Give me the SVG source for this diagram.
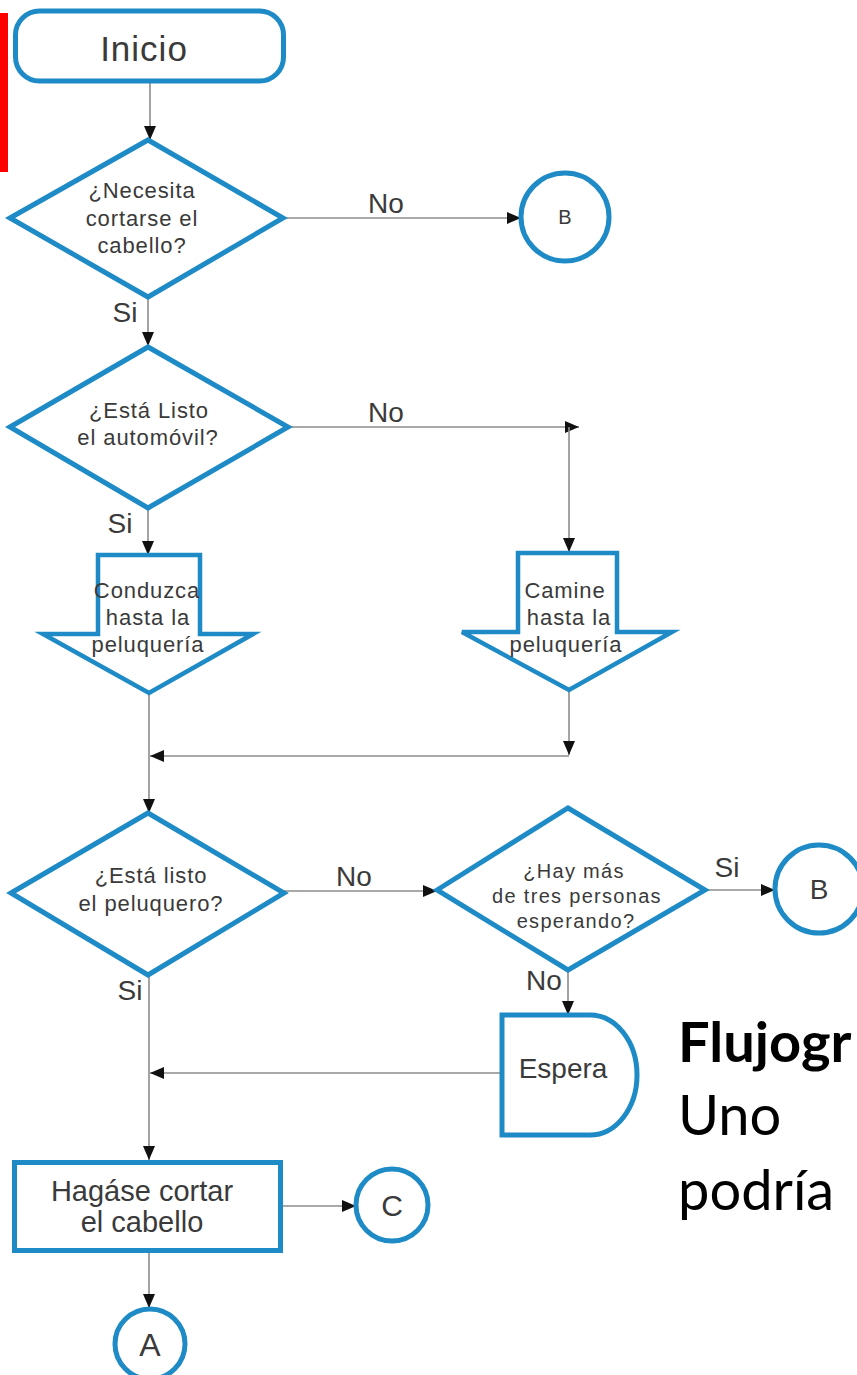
<svg xmlns="http://www.w3.org/2000/svg" width="857" height="1375" viewBox="0 0 857 1375">
<style>
.sh{fill:#ffffff;stroke:#1e8bc6;stroke-width:5;stroke-linejoin:miter}
.ba{fill:#ffffff;stroke:#1e8bc6;stroke-width:4.5;stroke-linejoin:miter}
.t{font-family:"Liberation Sans",Arial,sans-serif;fill:#3a3a3a;text-anchor:middle}
.d{font-size:22px;letter-spacing:0.9px}
.d4{font-size:20px;letter-spacing:1.3px}
.l{font-size:28px}
.c{stroke:#8c8c8c;stroke-width:1.6;fill:none}
.big{font-family:Lato,"Noto Sans",sans-serif;font-size:56px;fill:#000000}
</style>
<defs>
<marker id="ah" viewBox="0 0 14 12" refX="14" refY="6" markerWidth="14" markerHeight="12" markerUnits="userSpaceOnUse" orient="auto">
<path d="M0,0 L14,6 L0,12 Z" fill="#111111"/>
</marker>
</defs>
<rect width="857" height="1375" fill="#ffffff"/>
<rect x="0" y="13" width="8" height="159" fill="#ff0000"/>

<g id="connectors">
<line class="c" x1="150" y1="83" x2="150" y2="140" marker-end="url(#ah)"/>
<line class="c" x1="283" y1="218" x2="521" y2="218" marker-end="url(#ah)"/>
<line class="c" x1="148" y1="297" x2="148" y2="346" marker-end="url(#ah)"/>
<line class="c" x1="288" y1="427" x2="579" y2="427" marker-end="url(#ah)"/>
<line class="c" x1="569" y1="427" x2="569" y2="552" marker-end="url(#ah)"/>
<line class="c" x1="148" y1="508" x2="148" y2="555" marker-end="url(#ah)"/>
<line class="c" x1="149" y1="693" x2="149" y2="813" marker-end="url(#ah)"/>
<line class="c" x1="569" y1="690" x2="569" y2="755" marker-end="url(#ah)"/>
<line class="c" x1="569" y1="756" x2="150" y2="756" marker-end="url(#ah)"/>
<line class="c" x1="284" y1="891" x2="437" y2="891" marker-end="url(#ah)"/>
<line class="c" x1="705" y1="890" x2="775" y2="890" marker-end="url(#ah)"/>
<line class="c" x1="568" y1="970" x2="568" y2="1015" marker-end="url(#ah)"/>
<line class="c" x1="502" y1="1073" x2="150" y2="1073" marker-end="url(#ah)"/>
<line class="c" x1="149" y1="975" x2="149" y2="1160" marker-end="url(#ah)"/>
<line class="c" x1="283" y1="1206" x2="356" y2="1206" marker-end="url(#ah)"/>
<line class="c" x1="149" y1="1252" x2="149" y2="1308" marker-end="url(#ah)"/>
</g>

<g id="inicio">
<rect class="sh" x="15.5" y="11" width="268" height="70" rx="24"/>
<text class="t" x="144" y="61" font-size="35" letter-spacing="1">Inicio</text>
</g>

<g id="d1">
<polygon class="sh" points="10,218 148,140 283,218 148,297"/>
<text class="t d" x="142" y="198">¿Necesita</text>
<text class="t d" x="142" y="226">cortarse el</text>
<text class="t d" x="142" y="253">cabello?</text>
</g>

<g id="b1">
<circle class="sh" cx="565" cy="217" r="44"/>
<text class="t" x="565" y="224" font-size="20">B</text>
</g>

<g id="d2">
<polygon class="sh" points="10,427 148,347 288,427 148,508"/>
<text class="t d" x="149" y="418">¿Está Listo</text>
<text class="t d" x="148" y="445">el automóvil?</text>
</g>

<g id="conduzca">
<polygon class="ba" points="98,555 200,555 200,634 253,634 149,693 43,634 98,634"/>
<text class="t d" x="147" y="598">Conduzca</text>
<text class="t d" x="148" y="625">hasta la</text>
<text class="t d" x="148" y="652">peluquería</text>
</g>

<g id="camine">
<polygon class="ba" points="518,553 617,553 617,632 672,632 569,690 462,632 518,632"/>
<text class="t d" x="565" y="598">Camine</text>
<text class="t d" x="569" y="625">hasta la</text>
<text class="t d" x="566" y="652">peluquería</text>
</g>

<g id="d3">
<polygon class="sh" points="11,893 148,813 284,893 148,975"/>
<text class="t d" x="151" y="883">¿Está listo</text>
<text class="t d" x="151" y="911">el peluquero?</text>
</g>

<g id="d4">
<polygon class="sh" points="437,890 568,808 705,890 568,970"/>
<text class="t d4" x="574" y="878">¿Hay más</text>
<text class="t d4" x="577" y="903">de tres personas</text>
<text class="t d4" x="576" y="928">esperando?</text>
</g>

<g id="b2">
<circle class="sh" cx="819" cy="889" r="44"/>
<text class="t" x="819" y="899" font-size="28">B</text>
</g>

<g id="espera">
<path class="sh" d="M502,1015 H590 A47,60 0 0 1 590,1135 H502 Z"/>
<text class="t" x="563" y="1078" font-size="28">Espera</text>
</g>

<g id="hagase">
<rect class="sh" x="14.5" y="1162.5" width="266" height="88"/>
<text class="t" x="142" y="1201" font-size="29">Hagáse cortar</text>
<text class="t" x="142" y="1232" font-size="29">el cabello</text>
</g>

<g id="c">
<circle class="sh" cx="392" cy="1205" r="36"/>
<text class="t" x="392" y="1216" font-size="30">C</text>
</g>

<g id="a">
<circle class="sh" cx="150" cy="1344" r="35"/>
<text class="t" x="150" y="1356" font-size="32">A</text>
</g>

<g id="labels">
<text class="t l" x="386" y="213">No</text>
<text class="t l" x="125" y="322">Si</text>
<text class="t l" x="386" y="422">No</text>
<text class="t l" x="120" y="533">Si</text>
<text class="t l" x="354" y="886">No</text>
<text class="t l" x="727" y="877">Si</text>
<text class="t l" x="544" y="990">No</text>
<text class="t l" x="130" y="1000">Si</text>
</g>

<g id="caption">
<text class="big" x="678" y="1062" font-weight="bold">Flujogr</text>
<text class="big" x="678" y="1135">Uno</text>
<text class="big" x="678" y="1210">podría</text>
</g>
</svg>
